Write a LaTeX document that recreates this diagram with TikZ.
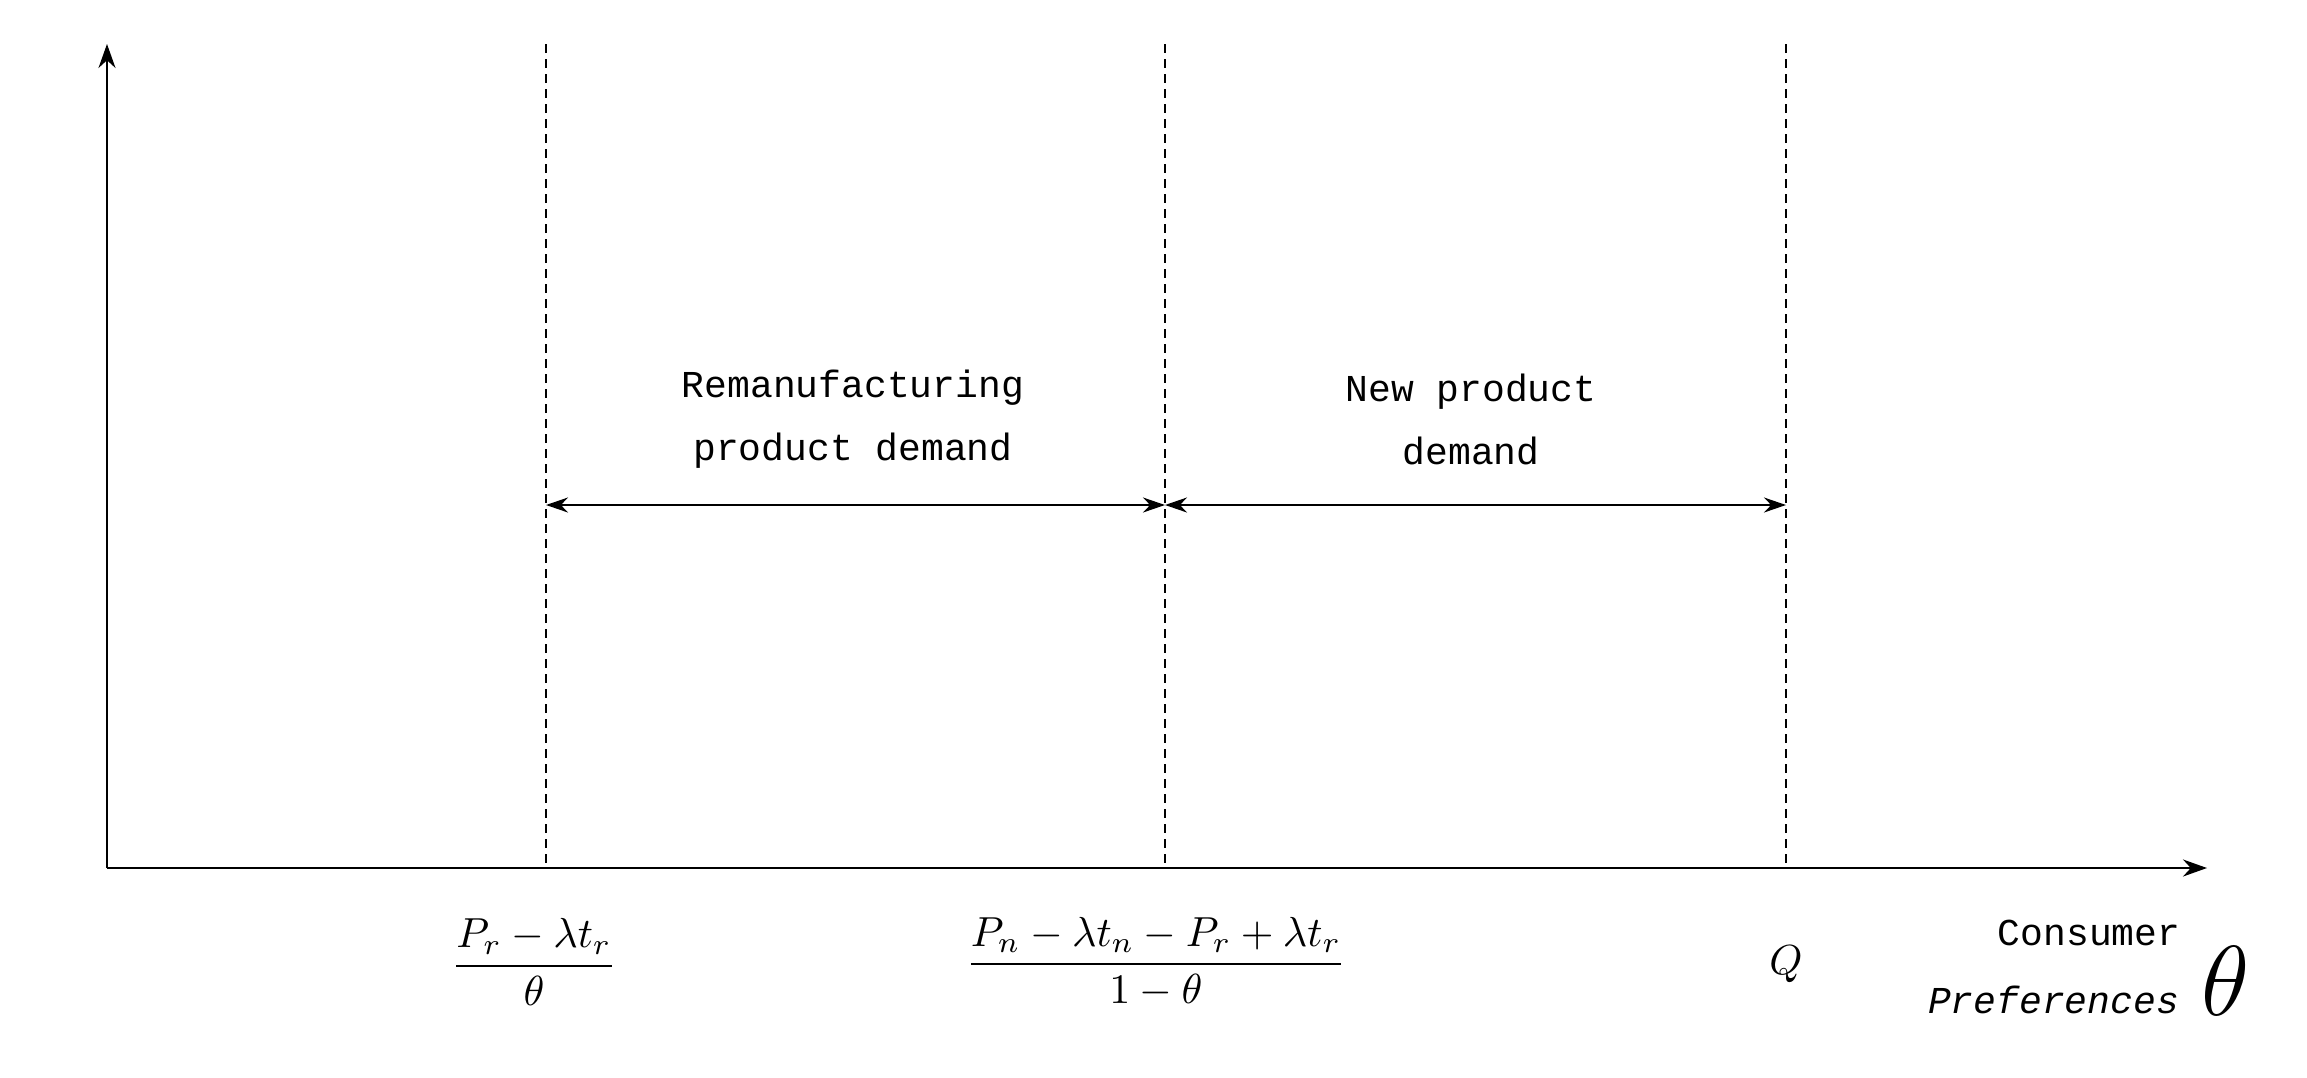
\documentclass[tikz,border=0pt]{standalone}
\usepackage{amsmath}
\usepackage{graphicx}
\usepackage{fontspec}
\setmonofont{Liberation Mono}
\usetikzlibrary{arrows.meta}
\begin{document}
\begin{tikzpicture}[x=1pt,y=-1pt,
  lbl/.style={font=\ttfamily\fontsize{38}{63}\selectfont,align=center},
  ax/.style={line width=2.2pt,-{Stealth[length=24pt,width=17pt]}},
  dl/.style={line width=1.5pt,dash pattern=on 9pt off 6pt}]
\useasboundingbox (0,0) rectangle (2307,1077);
\coordinate (O) at (107,868);
\coordinate (T) at (107,44);
\coordinate (R) at (2207,868);
\draw[ax] (O) -- (T);
\draw[ax] (O) -- (R);
\foreach \n/\x in {a/546,b/1165,c/1786}{
  \coordinate (\n top) at (\x,44);
  \coordinate (\n bot) at (\x,868);
  \coordinate (\n mid) at (\x,505);
  \draw[dl] (\n top) -- (\n bot);
}
\draw[line width=2pt,{Stealth[length=22pt,width=15pt]}-{Stealth[length=22pt,width=15pt]}] (amid) -- (bmid);
\draw[line width=2pt,{Stealth[length=22pt,width=15pt]}-{Stealth[length=22pt,width=15pt]}] (bmid) -- (cmid);
\node[lbl] (l1) at (853,419) {Remanufacturing\\product demand};
\node[lbl] (l2) at (1471,419) {New product\\demand};
\node (f1) at (534,962) {\scalebox{4.2}{$\dfrac{P_r-\lambda t_r}{\theta}$}};
\node (f2) at (1156,962) {\scalebox{4.2}{$\dfrac{P_n-\lambda t_n-P_r+\lambda t_r}{1-\theta}$}};
\node (q) at (1786,964) {\scalebox{4.2}{$Q$}};
\node[lbl] (c1) at (2089,968) {Consumer\\\textit{Preferences} \raisebox{-2pt}{\scalebox{4}{$\theta$}}};
\end{tikzpicture}
\end{document}
